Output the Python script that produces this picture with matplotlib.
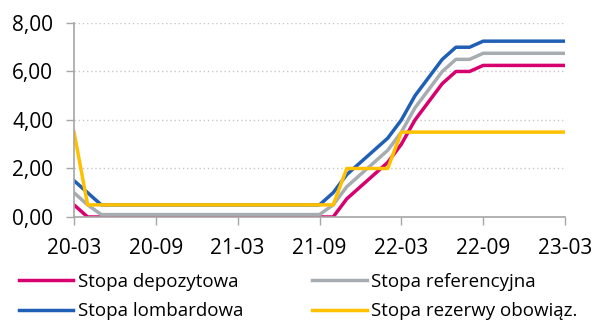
#!/usr/bin/env python3
# NBP interest rates, monthly, 2020-03 .. 2023-03

import matplotlib.pyplot as plt

months = ['20-03', '20-04', '20-05', '20-06', '20-07', '20-08', '20-09', '20-10', '20-11', '20-12',
          '21-01', '21-02', '21-03', '21-04', '21-05', '21-06', '21-07', '21-08', '21-09', '21-10',
          '21-11', '21-12', '22-01', '22-02', '22-03', '22-04', '22-05', '22-06', '22-07', '22-08',
          '22-09', '22-10', '22-11', '22-12', '23-01', '23-02', '23-03']

deposit = [0.5, 0.0, 0.0, 0.0, 0.0, 0.0, 0.0, 0.0, 0.0, 0.0,
           0.0, 0.0, 0.0, 0.0, 0.0, 0.0, 0.0, 0.0, 0.0, 0.0,
           0.75, 1.25, 1.75, 2.25, 3.0, 4.0, 4.75, 5.5, 6.0, 6.0,
           6.25, 6.25, 6.25, 6.25, 6.25, 6.25, 6.25]
reference = [1.0, 0.5, 0.1, 0.1, 0.1, 0.1, 0.1, 0.1, 0.1, 0.1,
             0.1, 0.1, 0.1, 0.1, 0.1, 0.1, 0.1, 0.1, 0.1, 0.5,
             1.25, 1.75, 2.25, 2.75, 3.5, 4.5, 5.25, 6.0, 6.5, 6.5,
             6.75, 6.75, 6.75, 6.75, 6.75, 6.75, 6.75]
lombard = [1.5, 1.0, 0.5, 0.5, 0.5, 0.5, 0.5, 0.5, 0.5, 0.5,
           0.5, 0.5, 0.5, 0.5, 0.5, 0.5, 0.5, 0.5, 0.5, 1.0,
           1.75, 2.25, 2.75, 3.25, 4.0, 5.0, 5.75, 6.5, 7.0, 7.0,
           7.25, 7.25, 7.25, 7.25, 7.25, 7.25, 7.25]
reserve = [3.5, 0.5, 0.5, 0.5, 0.5, 0.5, 0.5, 0.5, 0.5, 0.5,
           0.5, 0.5, 0.5, 0.5, 0.5, 0.5, 0.5, 0.5, 0.5, 0.5,
           2.0, 2.0, 2.0, 2.0, 3.5, 3.5, 3.5, 3.5, 3.5, 3.5,
           3.5, 3.5, 3.5, 3.5, 3.5, 3.5, 3.5]

xtick_labels = ['20-03', '20-09', '21-03', '21-09', '22-03', '22-09', '23-03']
yticks = [0, 2, 4, 6, 8]
ytick_labels = ['0,00', '2,00', '4,00', '6,00', '8,00']

plt.rcParams['font.family'] = ['Open Sans', 'DejaVu Sans']

fig = plt.figure(figsize=(5.95, 3.25), dpi=100)
ax = fig.add_axes([0.1244, 0.3323, 0.8252, 0.597])

x = list(range(len(months)))
lw = 2.5
ax.plot(x, deposit, color='#D6006F', lw=lw, label='Stopa depozytowa')
ax.plot(x, reference, color='#A7ACB1', lw=lw, label='Stopa referencyjna')
ax.plot(x, lombard, color='#1F5FB5', lw=lw, label='Stopa lombardowa')
ax.plot(x, reserve, color='#FFC000', lw=lw, label='Stopa rezerwy obowiąz.')

ax.set_xlim(0, len(months) - 1)
ax.set_ylim(0, 8)
ax.set_xticks([months.index(m) for m in xtick_labels])
ax.set_xticklabels(xtick_labels)
ax.set_yticks(yticks)
ax.set_yticklabels(ytick_labels)
ax.tick_params(axis='both', labelsize=15, color='#A6A6A6', width=1, length=6)
ax.tick_params(axis='x', pad=9)
ax.tick_params(axis='y', pad=9)

ax.grid(axis='y', color='#C8C8C8', linestyle=(0, (1, 2)), lw=1)
ax.set_axisbelow(True)
for side in ['top', 'right']:
    ax.spines[side].set_visible(False)
for side in ['left', 'bottom']:
    ax.spines[side].set_color('#A6A6A6')
    ax.spines[side].set_linewidth(1.2)

# legend order: deposit, reference / lombard, reserve (row-wise)
handles, labels = ax.get_legend_handles_labels()
order = [0, 2, 1, 3]
fig.legend([handles[i] for i in order], [labels[i] for i in order],
           loc='upper left', bbox_to_anchor=(0.032, 0.16), ncol=2,
           frameon=False, fontsize=13.5, handlelength=2.9, handletextpad=0.22,
           columnspacing=3.7, labelspacing=0.6, borderaxespad=0, borderpad=0)

fig.savefig('out.png', dpi=100)
